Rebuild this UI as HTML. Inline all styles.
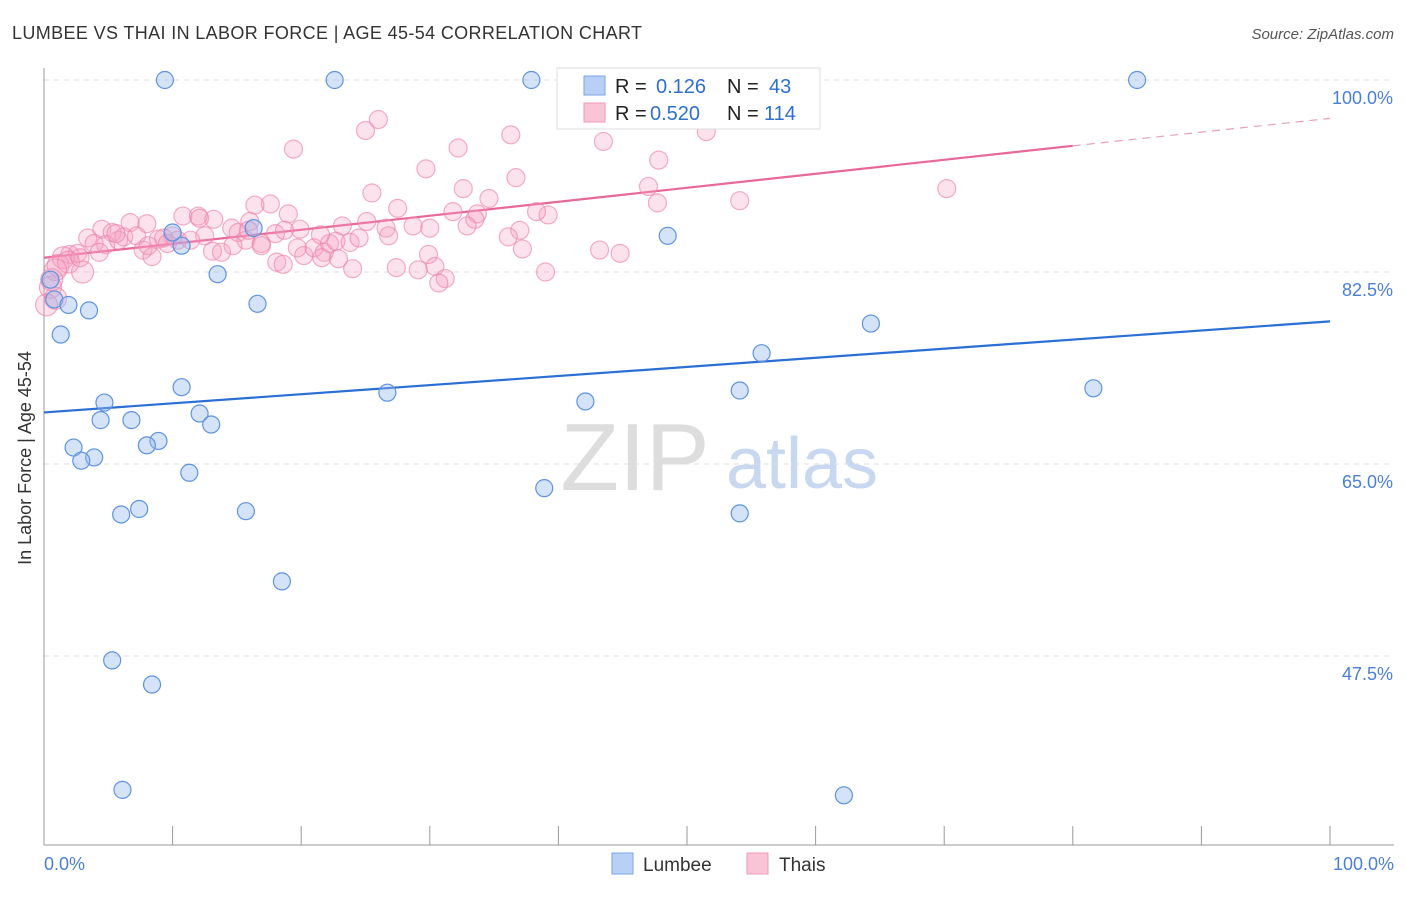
<!DOCTYPE html>
<html><head><meta charset="utf-8">
<style>
body{margin:0;background:#fff;font-family:"Liberation Sans",sans-serif;}
svg text{font-family:"Liberation Sans",sans-serif;}
</style></head>
<body>
<svg id="chart" width="1406" height="892" xmlns="http://www.w3.org/2000/svg">
<text x="12" y="39" font-size="18" fill="#333" textLength="630">LUMBEE VS THAI IN LABOR FORCE | AGE 45-54 CORRELATION CHART</text>
<text x="1394" y="39" font-size="15" fill="#555" text-anchor="end" font-style="italic">Source: ZipAtlas.com</text>
<text x="31" y="458" font-size="18" fill="#333" text-anchor="middle" transform="rotate(-90 31 458)">In Labor Force | Age 45-54</text>
<g>
<text x="635" y="490" font-size="96" fill="#ddd" text-anchor="middle" font-family="Liberation Serif,serif">ZIP</text>
<text x="802" y="488" font-size="72" fill="#c8d8f0" text-anchor="middle">atlas</text>
</g>
<g id="grid"></g><g id="axes"></g><g id="lines"></g><g id="pts"></g>
<g>
<rect x="557" y="68" width="263" height="61" fill="#fff" stroke="#ddd"/>
<rect x="584" y="76" width="21" height="19" fill="#b8d0f5" stroke="#7aa6e6"/>
<rect x="584" y="103" width="21" height="19" fill="#f8c4d6" stroke="#f09ab8"/>
<text x="615" y="93" font-size="20" fill="#222">R = </text><text x="656" y="93" font-size="20" fill="#2f6fd0">0.126</text>
<text x="727" y="93" font-size="20" fill="#222">N = </text><text x="769" y="93" font-size="20" fill="#2f6fd0">43</text>
<text x="615" y="120" font-size="20" fill="#222">R = </text><text x="650" y="120" font-size="20" fill="#2f6fd0">0.520</text>
<text x="727" y="120" font-size="20" fill="#222">N = </text><text x="764" y="120" font-size="20" fill="#2f6fd0">114</text>
</g>
<g>
<rect x="612" y="853" width="21" height="21" fill="#b8d0f5" stroke="#7aa6e6"/>
<text x="643" y="871" font-size="19" fill="#333">Lumbee</text>
<rect x="747" y="853" width="21" height="21" fill="#f8c4d6" stroke="#f09ab8"/>
<text x="779" y="871" font-size="19" fill="#333">Thais</text>
</g>
</svg>
<script>
const yTicks=[100,82.5,65,47.5];
const yTickLabels=["100.0%","82.5%","65.0%","47.5%"];
const xTickLabels=["0.0%","100.0%"];
const lumbeeX=[9.4,22.6,37.9,85.0,48.5,10.7,16.3,13.5,0.8,1.9,3.5,16.6,1.3,64.3,55.8,10.7,26.7,54.1,81.6,4.7,42.1,12.1,4.4,6.8,13.0,2.3,8.9,8.0,3.9,2.9,11.3,38.9,7.4,6.0,15.7,54.1,18.5,5.3,8.4,6.1,62.2,0.5,10.0];
const lumbeeY=[100,100,100,100,85.8,84.9,86.5,82.3,80.0,79.5,79.0,79.6,76.8,77.8,75.1,72.0,71.5,71.7,71.9,70.6,70.7,69.6,69.0,69.0,68.6,66.5,67.1,66.7,65.6,65.3,64.2,62.8,60.9,60.4,60.7,60.5,54.3,47.1,44.9,35.3,34.8,81.8,86.1];
const thaiX=[41.5,55.0,26.0,25.0,19.4,32.2,36.3,43.5,51.5,47.8,29.7,25.5,32.6,36.7,47.0,70.2,54.1,47.7,34.6,27.5,17.6,16.4,10.8,12.0,13.2,19.0,12.1,14.6,16.0,23.2,25.1,31.8,33.7,33.5,32.9,37.0,39.2,38.3,26.6,28.7,19.9,6.7,8.0,4.5,5.3,6.2,10.0,9.3,10.4,12.5,15.1,15.7,16.9,3.4,3.9,4.8,5.8,7.2,8.9,9.6,13.1,13.8,16.9,18.0,19.7,20.2,21.0,21.8,22.2,22.7,23.8,24.5,26.8,36.1,37.2,44.8,29.9,21.6,7.7,8.4,2.0,2.6,1.5,1.1,1.9,0.9,3.0,18.1,18.6,24.0,27.4,29.1,30.4,31.2,30.7,39.0,0.5,0.9,0.6,0.2,11.4,18.7,21.5,30.0,43.2,2.8,4.3,5.6,8.1,14.7,15.9,22.9];
const thaiY=[100,96.4,96.4,95.4,93.7,93.8,95.0,94.4,95.3,92.7,91.9,89.7,90.1,91.1,90.3,90.1,89.0,88.8,89.2,88.3,88.7,88.6,87.6,87.6,87.3,87.8,87.4,86.5,87.1,86.7,87.1,88.0,87.8,87.3,86.7,86.3,87.7,88.0,86.5,86.7,86.4,87.0,86.9,86.4,86.1,85.7,85.8,85.6,85.4,85.8,86.1,85.4,85.1,85.6,85.1,85.0,85.4,85.8,85.5,85.1,84.4,84.3,84.9,86.0,84.7,84.0,84.7,84.3,85.1,85.3,85.2,85.6,85.8,85.7,84.6,84.2,84.1,83.8,84.5,83.9,84.1,84.2,83.8,83.1,83.4,82.7,82.5,83.4,83.2,82.8,82.9,82.7,83.0,81.9,81.5,82.5,81.1,80.1,81.8,79.5,85.4,86.3,85.9,86.5,84.5,83.8,84.3,86.0,84.9,84.9,86.3,83.7];
const lumbeeTrend=[69.7,78.0];
const thaiTrend=[83.8,94.0,96.5];
const thaiBig=[82,83,84,85,86,96,97,98,99];

const X0=44,X1=1330;
const xs=v=>X0+v*(X1-X0)/100;
const ys=v=>80+(100-v)*(192/17.5);
const NS="http://www.w3.org/2000/svg";
function mk(tag,attrs,parent){const e=document.createElementNS(NS,tag);for(const k in attrs)e.setAttribute(k,attrs[k]);document.getElementById(parent).appendChild(e);return e;}

yTicks.forEach((t,i)=>{
 const g=mk('line',{x1:44,x2:1394,y1:ys(t),y2:ys(t),stroke:'#ddd','stroke-dasharray':'5,5'},'grid');
 
 
 const tx=mk('text',{x:1393,y:ys(t)+24,'font-size':18,fill:'#4a7fd6','text-anchor':'end'},'grid');
 tx.textContent=yTickLabels[i];
 
 
});
const ya=mk('line',{x1:44,x2:44,y1:68,y2:845,stroke:'#999'},'axes');


const xa=mk('line',{x1:44,x2:1394,y1:845,y2:845,stroke:'#999'},'axes');


for(let i=0;i<=10;i++){
 const tk=mk('line',{x1:xs(i*10),x2:xs(i*10),y1:826,y2:845,stroke:'#999'},'axes');
 
 
}
[[0,'start',44],[100,'end',1394]].forEach((a,i)=>{
 const t=mk('text',{x:a[2],y:870,'font-size':18,fill:'#4a7fd6','text-anchor':a[1]},'axes');
 t.textContent=xTickLabels[i];
 
 
});

const bl=mk('line',{x1:xs(0),y1:ys(lumbeeTrend[0]),x2:xs(100),y2:ys(lumbeeTrend[1]),stroke:'#2a6fd6','stroke-width':2.2},'lines');


const pl=mk('line',{x1:xs(0),y1:ys(thaiTrend[0]),x2:xs(80),y2:ys(thaiTrend[1]),stroke:'#e8689a','stroke-width':2.2},'lines');


const pd=mk('line',{x1:xs(80),y1:ys(thaiTrend[1]),x2:xs(100),y2:ys(thaiTrend[2]),stroke:'#e8a0bc','stroke-width':1.2,'stroke-dasharray':'8,6'},'lines');



thaiX.forEach((x,i)=>{
 const r=thaiBig.includes(i)?11:9;
 const c=mk('circle',{cx:xs(x),cy:ys(thaiY[i]),r:r,fill:'rgba(244,160,192,0.3)',stroke:'rgba(236,130,170,0.65)','stroke-width':1.2},'pts');
 
 
});
lumbeeX.forEach((x,i)=>{
 const c=mk('circle',{cx:xs(x),cy:ys(lumbeeY[i]),r:8.5,fill:'rgba(150,185,240,0.4)',stroke:'#5f93e0','stroke-width':1.2},'pts');
 
 
});
</script>
</body></html>
